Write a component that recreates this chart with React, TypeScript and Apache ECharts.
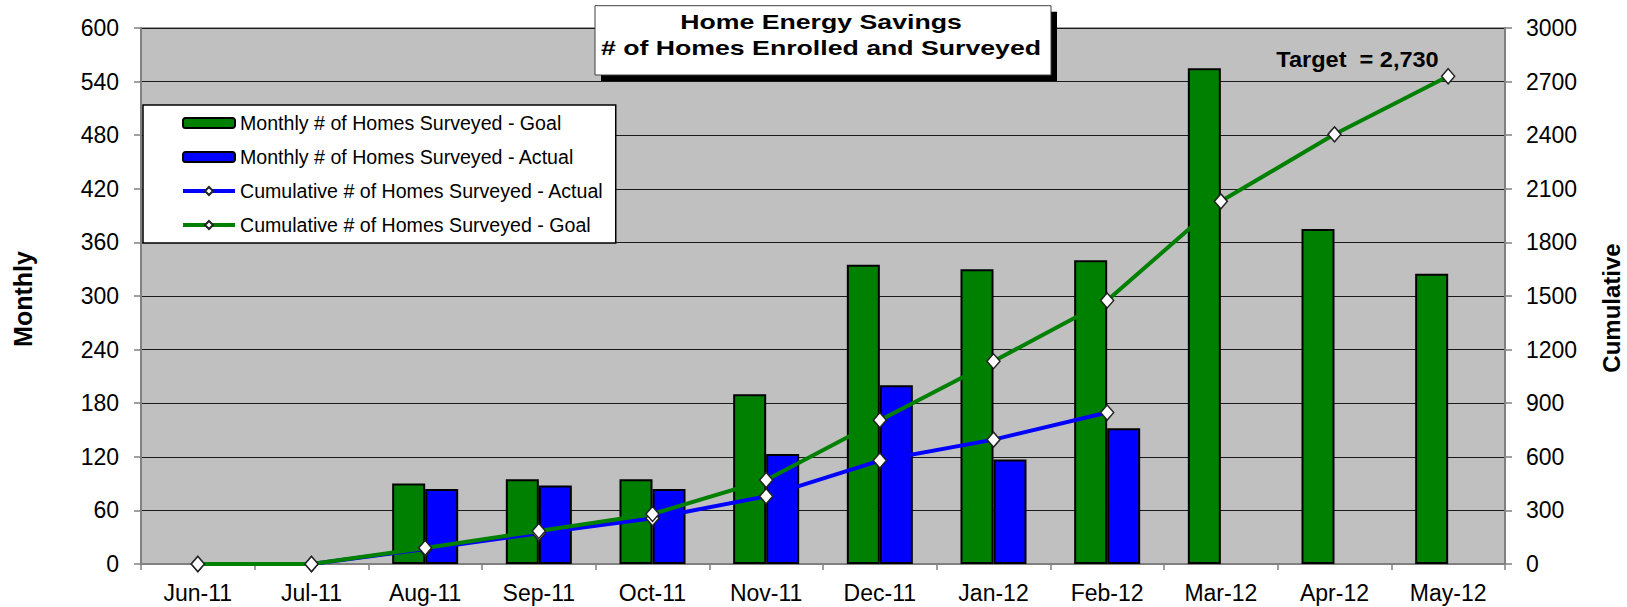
import React, { useEffect, useRef } from "react";
import * as echarts from "echarts";

const categories = ["Jun-11", "Jul-11", "Aug-11", "Sep-11", "Oct-11", "Nov-11", "Dec-11", "Jan-12", "Feb-12", "Mar-12", "Apr-12", "May-12"];
const monthlyGoal = [0, 0, 90, 95, 95, 190, 335, 330, 340, 555, 375, 325];
const monthlyActual = [0, 0, 84, 88, 84, 123, 200, 117, 152, null, null, null];
const cumulativeActual = [0, 0, 84, 172, 256, 379, 579, 696, 848, null, null, null];
const cumulativeGoal = [0, 0, 90, 185, 280, 470, 805, 1135, 1475, 2030, 2405, 2730];

const titleLines = ["Home Energy Savings", "# of Homes Enrolled and Surveyed"];
const targetLabel = "Target  = 2,730";
const leftAxisName = "Monthly";
const rightAxisName = "Cumulative";
const seriesNames = [
  "Monthly # of Homes Surveyed - Goal",
  "Monthly # of Homes Surveyed - Actual",
  "Cumulative # of Homes Surveyed - Actual",
  "Cumulative # of Homes Surveyed - Goal",
];

const FONT = "'Liberation Sans', Arial, Helvetica, sans-serif";

// zero-height monthly bars are not drawn in the original
const barData = (arr: (number | null)[]) => arr.map((v) => (v === 0 ? null : v));

function txt(text: string, x: number, y: number, size: number, opts: any = {}) {
  return {
    type: "text",
    x,
    y,
    z: 100,
    rotation: opts.rotation || 0,
    scaleX: opts.scaleX || 1,
    style: {
      text,
      fontSize: size,
      fontWeight: "bold",
      fontFamily: FONT,
      fill: "#000",
      align: "center",
      verticalAlign: "middle",
      textAlign: "center",
      textVerticalAlign: "middle",
    },
  };
}

export default function App() {
  const ref = useRef<HTMLDivElement>(null);
  useEffect(() => {
    if (!ref.current) return;
    const chart = echarts.init(ref.current, null, { renderer: "svg" });
    const axisLabel = { color: "#000", fontSize: 23, fontFamily: FONT };
    const option: any = {
      animation: false,
      backgroundColor: "#fff",
      grid: {
        left: 141,
        right: 122,
        top: 28,
        bottom: 43,
        show: true,
        backgroundColor: "#C0C0C0",
        borderColor: "#808080",
        borderWidth: 1.5,
        outerBoundsMode: "none",
      },
      legend: {
        orient: "vertical",
        left: 143,
        top: 105,
        data: seriesNames,
        backgroundColor: "#fff",
        borderColor: "#000",
        borderWidth: 1.5,
        padding: [8, 12, 8, 38],
        itemWidth: 52,
        itemHeight: 10,
        itemGap: 14,
        selectedMode: false,
        lineStyle: { width: 4 },
        textStyle: { fontSize: 19.6, fontFamily: FONT, color: "#000", lineHeight: 20 },
      },
      xAxis: {
        type: "category",
        data: categories,
        axisLine: { show: true, lineStyle: { color: "#808080", width: 2 } },
        axisTick: { show: true, length: 6, lineStyle: { color: "#808080", width: 1.5 } },
        axisLabel: { ...axisLabel, margin: 17 },
        splitLine: { show: false },
      },
      yAxis: [
        {
          type: "value",
          min: 0,
          max: 600,
          interval: 60,
          position: "left",
          axisLine: { show: true, lineStyle: { color: "#808080", width: 2 } },
          axisTick: { show: true, length: 7, lineStyle: { color: "#808080", width: 1.5 } },
          axisLabel: { ...axisLabel, margin: 22, formatter: (v: number) => String(v) },
          splitLine: { show: true, lineStyle: { color: "#1a1a1a", width: 1 } },
        },
        {
          type: "value",
          min: 0,
          max: 3000,
          interval: 300,
          position: "right",
          axisLine: { show: true, lineStyle: { color: "#808080", width: 2 } },
          axisTick: { show: true, length: 7, lineStyle: { color: "#808080", width: 1.5 } },
          axisLabel: { ...axisLabel, margin: 21, formatter: (v: number) => String(v) },
          splitLine: { show: false },
        },
      ],
      series: [
        {
          name: seriesNames[0],
          type: "bar",
          yAxisIndex: 0,
          data: barData(monthlyGoal),
          barWidth: 33,
          barGap: "0%",
          itemStyle: { color: "#008000", borderColor: "#000", borderWidth: 2 },
        },
        {
          name: seriesNames[1],
          type: "bar",
          yAxisIndex: 0,
          data: barData(monthlyActual),
          barWidth: 33,
          barGap: "0%",
          itemStyle: { color: "#0000FF", borderColor: "#000", borderWidth: 2 },
        },
        {
          name: seriesNames[2],
          type: "line",
          yAxisIndex: 1,
          data: cumulativeActual,
          symbol: "diamond",
          symbolSize: [13, 15],
          showAllSymbol: true,
          z: 3,
          lineStyle: { color: "#0000FF", width: 4 },
          itemStyle: { color: "#fff", borderColor: "#222", borderWidth: 1.5 },
        },
        {
          name: seriesNames[3],
          type: "line",
          yAxisIndex: 1,
          data: cumulativeGoal,
          symbol: "diamond",
          symbolSize: [13, 15],
          showAllSymbol: true,
          z: 4,
          lineStyle: { color: "#008000", width: 4 },
          itemStyle: { color: "#fff", borderColor: "#222", borderWidth: 1.5 },
        },
      ],
      graphic: [
        { type: "rect", z: 99, shape: { x: 601, y: 11.7, width: 456, height: 69.3 }, style: { fill: "#000" } },
        { type: "rect", z: 99, shape: { x: 595, y: 5.7, width: 456, height: 69.3 }, style: { fill: "#fff", stroke: "#404040", lineWidth: 1 } },
        txt(titleLines[0], 821, 21.2, 21, { scaleX: 1.27 }),
        txt(titleLines[1], 821, 47.5, 21, { scaleX: 1.27 }),
        txt(targetLabel, 1357.5, 59.5, 22, { scaleX: 1.07 }),
        txt(leftAxisName, 23, 299, 25, { rotation: Math.PI / 2 }),
        txt(rightAxisName, 1611.5, 308, 24, { rotation: Math.PI / 2 }),
      ],
    };
    chart.setOption(option);
    return () => chart.dispose();
  }, []);
  return (
    <div
      ref={ref}
      style={{ position: "fixed", left: 0, top: 0, width: 1627, height: 607, background: "#fff" }}
    />
  );
}
